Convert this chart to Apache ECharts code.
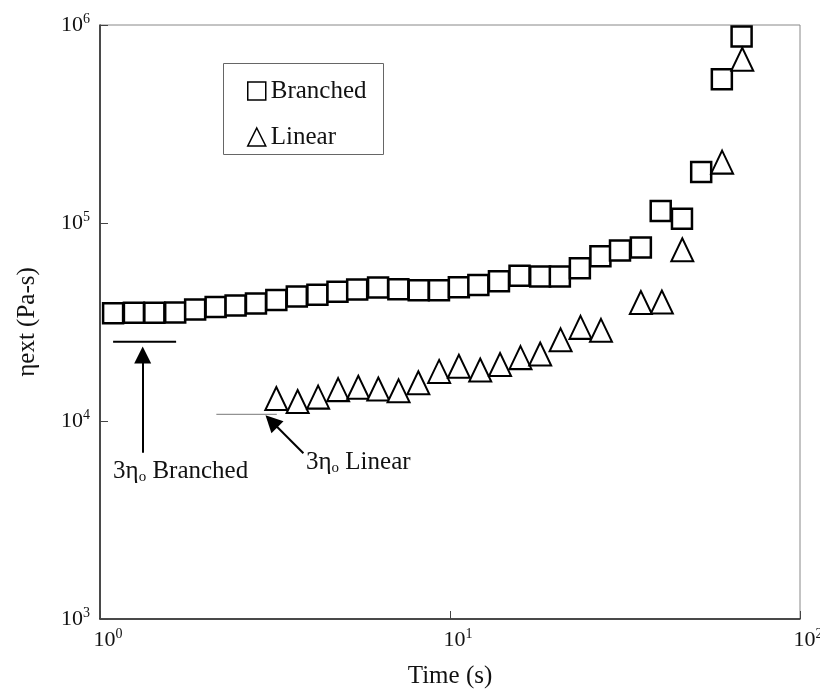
<!DOCTYPE html>
<html>
<head>
<meta charset="utf-8">
<script src="https://cdn.jsdelivr.net/npm/echarts@6/dist/echarts.min.js"></script>
<style>
  html, body { margin: 0; padding: 0; background: #fff; }
  #chart { width: 820px; height: 694px; }
</style>
</head>
<body>
<div id="chart"></div>
<script>
// data
var branchedTime = [1.09, 1.25, 1.43, 1.64, 1.87, 2.14, 2.44, 2.79, 3.19, 3.65, 4.18, 4.77, 5.43, 6.23, 7.12, 8.14,
    9.30, 10.6, 12.05, 13.8, 15.8, 18.1, 20.6, 23.5, 26.9, 30.6, 35.1, 40.0, 46.0, 52.2, 59.8, 68.1];
var branchedEta = [35000, 35200, 35200, 35300, 36600, 37600, 38300, 39200, 40900, 42600, 43400, 44900, 46200, 47200, 46300, 45800,
    45800, 47400, 48600, 50800, 54100, 53700, 53700, 59000, 68000, 72600, 75200, 115000, 105000, 181000, 532000, 875000];

var linearTime = [3.19, 3.67, 4.20, 4.79, 5.47, 6.24, 7.13, 8.12, 9.31, 10.6, 12.2, 13.9, 15.9, 18.1, 20.7, 23.6,
    27.0, 35.1, 40.3, 46.1, 59.9, 68.4];
var linearEta = [13000, 12550, 13200, 14400, 14800, 14500, 14200, 15600, 17800, 18900, 18100, 19300, 20900, 21800, 25700, 29700,
    28700, 39700, 39900, 73300, 203000, 672000];

// 3*eta0 reference levels and arrows
var branchedLevel = [[1.09, 25150], [1.65, 25150]];
var linearLevel = [[2.15, 10810], [3.2, 10810]];
var branchedArrow = [[1.324, 6918], [1.324, 21540]];
var linearArrow = [[3.812, 6870], [3.09, 9977]];

var FONT = "'Liberation Serif', 'Times New Roman', serif";

function zip(a, b) {
    return a.map(function (v, i) { return [v, b[i]]; });
}

function powLabel(v) {
    var e = Math.round(Math.log(v) / Math.LN10);
    return '{b|10}{s|' + e + '}';
}

var powRich = {
    b: { fontFamily: FONT, fontSize: 22, color: '#111', lineHeight: 22 },
    s: { fontFamily: FONT, fontSize: 14, color: '#111', padding: [0, 0, 12, 0] }
};

var chart = echarts.init(document.getElementById('chart'), null, { renderer: 'canvas' });

var option = {
    backgroundColor: '#fff',
    animation: false,
    grid: {
        left: 100, right: 20, top: 25, bottom: 75,
        outerBoundsMode: 'none', containLabel: false,
        show: true, borderColor: '#888', borderWidth: 1
    },
    legend: {
        orient: 'vertical',
        left: 242, top: 73,
        itemWidth: 18, itemHeight: 18, itemGap: 20,
        selectedMode: false,
        itemStyle: { borderWidth: 1.5 },
        textStyle: { fontFamily: FONT, fontSize: 25, color: '#111', lineHeight: 26 },
        data: [{ name: 'Branched', icon: 'rect' }, { name: 'Linear', icon: 'triangle' }]
    },
    xAxis: {
        type: 'log', logBase: 10, min: 1, max: 100,
        name: 'Time (s)', nameLocation: 'middle', nameGap: 45,
        nameTextStyle: { fontFamily: FONT, fontSize: 25, color: '#111' },
        axisLine: { lineStyle: { color: '#222', width: 1.5 } },
        axisTick: { inside: true, length: 8, lineStyle: { color: '#444' } },
        minorTick: { show: false },
        splitLine: { show: false },
        axisLabel: { margin: 8, formatter: powLabel, rich: powRich, padding: [0, 0, 0, 16] }
    },
    yAxis: {
        type: 'log', logBase: 10, min: 1000, max: 1000000,
        name: '\u03b7ext (Pa-s)', nameLocation: 'middle', nameGap: 60,
        nameTextStyle: { fontFamily: FONT, fontSize: 25, color: '#111' },
        axisLine: { lineStyle: { color: '#222', width: 1.5 } },
        axisTick: { inside: true, length: 8, lineStyle: { color: '#444' } },
        splitLine: { show: false },
        axisLabel: { margin: 10, formatter: powLabel, rich: powRich }
    },
    series: [
        {
            name: 'Branched', type: 'scatter',
            symbol: 'rect', symbolSize: 20,
            itemStyle: { color: '#fff', borderColor: '#000', borderWidth: 2.5, opacity: 1 },
            data: zip(branchedTime, branchedEta), z: 3
        },
        {
            name: 'Linear', type: 'scatter',
            symbol: 'triangle', symbolSize: [22, 23],
            itemStyle: { color: '#fff', borderColor: '#000', borderWidth: 2, opacity: 1 },
            data: zip(linearTime, linearEta), z: 4
        },
        {
            type: 'line', data: branchedLevel, symbol: 'none', silent: true,
            lineStyle: { color: '#000', width: 2 }, z: 2
        },
        {
            type: 'line', data: linearLevel, symbol: 'none', silent: true,
            lineStyle: { color: '#777', width: 1 }, z: 2
        },
        {
            type: 'lines', coordinateSystem: 'cartesian2d', silent: true,
            symbol: ['none', 'triangle'], symbolSize: 17,
            lineStyle: { color: '#000', width: 2, opacity: 1 },
            data: [{ coords: branchedArrow }, { coords: linearArrow }], z: 2
        }
    ]
};

chart.setOption(option);

// annotation texts anchored to data positions
var pBr = chart.convertToPixel({ gridIndex: 0 }, [1.09, 6918]);
var annRich = {
    o: { fontFamily: FONT, fontSize: 15, color: '#111', padding: [12, 0, 0, 0] }
};
chart.setOption({
    graphic: [
        {
            type: 'text', left: pBr[0], top: 459, silent: true,
            style: { text: '3\u03b7{o|o} Branched', rich: annRich, font: '25px ' + FONT, fill: '#111' }
        },
        {
            type: 'text', left: 306, top: 450, silent: true,
            style: { text: '3\u03b7{o|o} Linear', rich: annRich, font: '25px ' + FONT, fill: '#111' }
        },
        {
            type: 'rect', left: 221, top: 61, silent: true, z: 0,
            shape: { width: 160, height: 91 },
            style: { fill: 'none', stroke: '#666', lineWidth: 1 }
        }
    ]
});
</script>
</body>
</html>
